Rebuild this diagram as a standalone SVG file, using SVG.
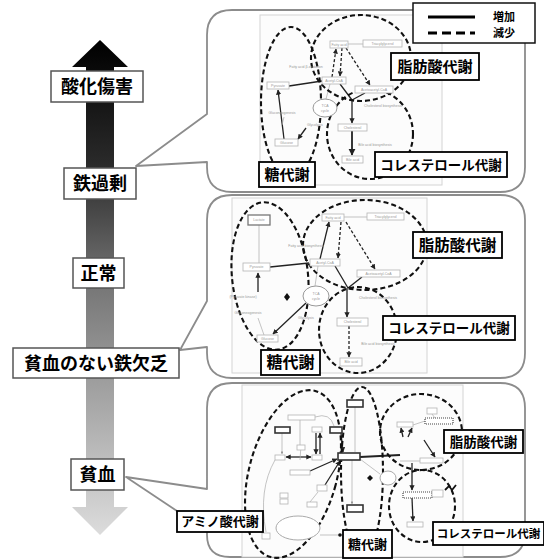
<svg xmlns="http://www.w3.org/2000/svg" width="544" height="559" viewBox="0 0 544 559">
<defs>
<linearGradient id="grad" gradientUnits="userSpaceOnUse" x1="0" y1="40" x2="0" y2="535">
<stop offset="0" stop-color="#000"/>
<stop offset="0.25" stop-color="#2a2a2a"/>
<stop offset="0.5" stop-color="#777"/>
<stop offset="0.75" stop-color="#aaa"/>
<stop offset="1" stop-color="#dcdcdc"/>
</linearGradient>
<marker id="ah" viewBox="0 0 10 10" refX="9" refY="5" markerWidth="4" markerHeight="4" orient="auto-start-reverse">
<path d="M0,0 L10,5 L0,10 Z" fill="#222"/>
</marker>
<marker id="ahg" viewBox="0 0 10 10" refX="9" refY="5" markerWidth="4" markerHeight="4" orient="auto-start-reverse">
<path d="M0,0 L10,5 L0,10 Z" fill="#999"/>
</marker>
<style>
.lbl{font-family:"Noto Sans CJK JP","Noto Sans CJK SC",sans-serif;font-weight:bold;fill:#000;text-anchor:middle}
.lbox{fill:#fff;stroke:#555;stroke-width:1.5}
.sbox{fill:#fff;stroke:#000;stroke-width:1.8}
.panel{fill:#fff;stroke:#8c8c8c;stroke-width:1.8;stroke-linejoin:round}
.inner{fill:#fcfcfc;stroke:#d4d4d4;stroke-width:1}
.node{fill:#fff;stroke:#b5b5b5;stroke-width:0.8}
.dnode{fill:#fff;stroke:#333;stroke-width:1.6}
.hnode{fill:#fff;stroke:#444;stroke-width:1.2;stroke-dasharray:1,1}
.tiny{font-family:"Liberation Sans",sans-serif;font-size:3.5px;fill:#999;text-anchor:middle}
.ell{fill:none;stroke:#111;stroke-width:2.1;stroke-dasharray:5,3}
.sol{fill:none;stroke:#222;stroke-width:1.3}
.thk{fill:none;stroke:#222;stroke-width:1.8}
.dsh{fill:none;stroke:#222;stroke-width:1.3;stroke-dasharray:3,2}
.thin{fill:none;stroke:#aaa;stroke-width:0.7}
</style>
</defs>

<!-- big vertical gradient arrow -->
<g id="scale-arrow">
<polygon points="100,40 128,67 114,67 114,507 128,507 100,535 72,507 86,507 86,67 72,67" fill="url(#grad)"/>
</g>

<!-- panels (speech-bubble shapes) -->
<g id="panel-iron-overload">
<path class="panel" d="M232,10 H500 Q525,10 525,35 V167 Q525,192 500,192 H232 Q207,192 207,167 V162 L136,166 L207,114 V35 Q207,10 232,10 Z"/>
<rect class="inner" x="260" y="15" width="182" height="170"/>
</g>
<g id="panel-iron-deficiency">
<path class="panel" d="M232,195 H500 Q525,195 525,220 V353 Q525,378 500,378 H232 Q207,378 207,353 V347 L180,350 L207,301 V220 Q207,195 232,195 Z"/>
<rect class="inner" x="232" y="198" width="195" height="175"/>
</g>
<g id="panel-anemia">
<path class="panel" d="M232,383 H500 Q525,383 525,408 V532 Q525,557 500,557 H230 Q207,557 207,535 V525 L177,511 L126,477 L207,489 V408 Q207,383 232,383 Z"/>
<rect class="inner" x="242" y="385" width="221" height="172"/>
</g>

<!-- connectors -->
<g id="connectors">
<!-- panel 1 -->
<line class="sol" x1="284" y1="139" x2="278" y2="90" marker-end="url(#ah)"/>
<line class="sol" x1="289" y1="86" x2="322" y2="81"/>
<line class="dsh" x1="332" y1="77" x2="336" y2="49" marker-end="url(#ah)"/>
<line class="dsh" x1="342" y1="48" x2="340" y2="76" marker-end="url(#ah)"/>
<line class="dsh" x1="346" y1="48" x2="370" y2="85" marker-end="url(#ah)"/>
<line class="sol" x1="340" y1="84" x2="352" y2="100"/>
<line class="sol" x1="365" y1="93" x2="352" y2="100"/>
<line class="sol" x1="352" y1="100" x2="352" y2="123" marker-end="url(#ah)"/>
<line class="thk" x1="352" y1="131" x2="352" y2="155" marker-end="url(#ah)"/>
<line class="sol" x1="306" y1="128" x2="298" y2="139" marker-end="url(#ah)"/>
<line class="thin" x1="330" y1="84" x2="326" y2="99"/>
<line class="thin" x1="348" y1="44" x2="363" y2="44"/>
<line class="thin" x1="282" y1="125" x2="284" y2="117"/>
<!-- panel 2 -->
<line class="thin" x1="259" y1="225" x2="259" y2="263"/>
<line class="sol" x1="270" y1="267" x2="309" y2="263"/>
<line class="sol" x1="320" y1="259" x2="329" y2="222" marker-end="url(#ah)"/>
<line class="dsh" x1="341" y1="222" x2="338" y2="258" marker-end="url(#ah)"/>
<line class="dsh" x1="346" y1="222" x2="375" y2="269" marker-end="url(#ah)"/>
<line class="sol" x1="335" y1="266" x2="348" y2="288"/>
<line class="sol" x1="362" y1="277" x2="348" y2="288"/>
<line class="sol" x1="347" y1="288" x2="347" y2="317" marker-end="url(#ah)"/>
<line class="dsh" x1="349" y1="326" x2="349" y2="357" marker-end="url(#ah)"/>
<line class="sol" x1="306" y1="303" x2="273" y2="334" marker-end="url(#ah)"/>
<line class="sol" x1="258" y1="292" x2="258" y2="273" marker-end="url(#ah)"/>
<line class="thin" x1="264" y1="335" x2="258" y2="318"/>
<line class="thin" x1="344" y1="217" x2="367" y2="217"/>
<line class="thin" x1="318" y1="266" x2="315" y2="286"/>
<!-- panel 3 -->
<line class="thin" x1="355" y1="407" x2="355" y2="452"/>
<line class="thk" x1="360" y1="457" x2="400" y2="455"/>
<line class="thin" x1="282" y1="433" x2="282" y2="454" marker-end="url(#ahg)"/>
<line class="sol" x1="316" y1="433" x2="316" y2="454" marker-end="url(#ah)"/>
<line class="sol" x1="320" y1="454" x2="320" y2="433" marker-end="url(#ah)"/>
<line class="sol" x1="286" y1="457" x2="311" y2="457" marker-start="url(#ah)" marker-end="url(#ah)"/>
<line class="sol" x1="341" y1="433" x2="343" y2="452" marker-end="url(#ah)"/>
<line class="sol" x1="310" y1="471" x2="337" y2="459" marker-end="url(#ah)"/>
<line class="sol" x1="325" y1="485" x2="340" y2="461" marker-end="url(#ah)"/>
<line class="thin" x1="352" y1="460" x2="352" y2="504" marker-end="url(#ahg)"/>
<line class="thin" x1="301" y1="445" x2="300" y2="460"/>
<line class="thin" x1="300" y1="420" x2="300" y2="445"/>
<path class="thin" d="M315,417 Q330,412 334,426"/>
<line class="thin" x1="360" y1="459" x2="380" y2="474"/>
<line class="thin" x1="320" y1="535" x2="360" y2="535"/>
<line class="thin" x1="318" y1="492" x2="310" y2="502"/>
<path class="thin" d="M275,460 Q258,490 266,532"/>
<line class="sol" x1="403" y1="437" x2="401" y2="428" marker-end="url(#ah)"/>
<line class="sol" x1="408" y1="437" x2="412" y2="428" marker-end="url(#ah)"/>
<line class="sol" x1="424" y1="440" x2="435" y2="457" marker-end="url(#ah)"/>
<line class="sol" x1="412" y1="463" x2="412" y2="490" marker-end="url(#ah)"/>
<line class="sol" x1="412" y1="498" x2="413" y2="521" marker-end="url(#ah)"/>
<line class="thin" x1="413" y1="425" x2="425" y2="421"/>
<line class="thin" x1="432" y1="414" x2="435" y2="418"/>
<line class="thin" x1="400" y1="461" x2="420" y2="461"/>
<path d="M445,490 L449,486 L452,490 L456,485" fill="none" stroke="#111" stroke-width="1.8"/>
</g>

<!-- legend -->
<g id="legend">
<rect x="413" y="3" width="122" height="40" fill="#fff" stroke="#111" stroke-width="1.5"/>
<line x1="428" y1="17" x2="475" y2="17" stroke="#000" stroke-width="3"/>
<line x1="428" y1="33" x2="475" y2="33" stroke="#000" stroke-width="3" stroke-dasharray="9,5"/>
<text class="lbl" x="504" y="21" font-size="11">増加</text>
<text class="lbl" x="504" y="37" font-size="11">減少</text>
</g>

<!-- panel 1 content -->
<g id="p1-ellipses">
<ellipse class="ell" cx="291" cy="102" rx="30" ry="75"/>
<ellipse class="ell" cx="361" cy="58" rx="50" ry="43"/>
<ellipse class="ell" cx="370" cy="134" rx="43" ry="45"/>
</g>
<g id="p1-fatty-acid"><rect class="node" x="330" y="41" width="18" height="7"/><text class="tiny" x="339" y="45.5">Fatty acid</text></g>
<g id="p1-triacylglycerol"><rect class="node" x="363" y="40" width="39" height="7"/><text class="tiny" x="382.5" y="44.5">Triacylglycerol</text></g>
<g id="p1-pyruvate"><rect class="node" x="267" y="82" width="22" height="7"/><text class="tiny" x="278" y="86.5">Pyruvate</text></g>
<g id="p1-acetyl-coa"><rect class="node" x="322" y="77" width="24" height="7"/><text class="tiny" x="334" y="81.5">Acetyl-CoA</text></g>
<g id="p1-acetoacetyl-coa"><rect class="node" x="355" y="86" width="38" height="7"/><text class="tiny" x="374" y="90.5">Acetoacetyl-CoA</text></g>
<g id="p1-tca"><ellipse cx="325" cy="108" rx="12" ry="9" fill="#fff" stroke="#999" stroke-width="1"/><text class="tiny" x="325" y="107">TCA</text><text class="tiny" x="325" y="111.5">cycle</text></g>
<g id="p1-glucose"><rect class="node" x="275" y="139" width="23" height="7"/><text class="tiny" x="286.5" y="143.5">Glucose</text></g>
<g id="p1-cholesterol"><rect class="node" x="338" y="124" width="29" height="7"/><text class="tiny" x="352.5" y="128.5">Cholesterol</text></g>
<g id="p1-bile-acid"><rect class="node" x="342" y="156" width="21" height="7"/><text class="tiny" x="352.5" y="160.5">Bile acid</text></g>
<g id="p1-notes">
<text class="tiny" x="306" y="68">Fatty acid β-oxidation</text>
<text class="tiny" x="282" y="114">Gluconeogenesis</text>
<text class="tiny" x="315" y="126">Glycolysis</text>
<text class="tiny" x="383" y="107">Cholesterol biosynthesis</text>
<text class="tiny" x="375" y="146">Bile acid biosynthesis</text>
</g>
<g id="p1-label-fa"><rect class="sbox" x="391" y="53" width="88" height="27"/><text class="lbl" x="435" y="71.5" font-size="15">脂肪酸代謝</text></g>
<g id="p1-label-chol"><rect class="sbox" x="375" y="152" width="132" height="25"/><text class="lbl" x="441" y="169.5" font-size="13.5">コレステロール代謝</text></g>
<g id="p1-label-sugar"><rect class="sbox" x="259" y="162" width="56" height="25"/><text class="lbl" x="287" y="180" font-size="15">糖代謝</text></g>

<!-- panel 2 content -->
<g id="p2-ellipses">
<ellipse class="ell" cx="270" cy="276" rx="38" ry="74" transform="rotate(-6 270 276)"/>
<ellipse class="ell" cx="365" cy="245" rx="62" ry="45"/>
<ellipse class="ell" cx="358" cy="330" rx="39" ry="43"/>
</g>
<g id="p2-lactate"><rect x="248" y="215" width="22" height="10" fill="#fff" stroke="#777" stroke-width="1.3"/><text class="tiny" x="259" y="221">Lactate</text></g>
<g id="p2-fatty-acid"><rect class="node" x="322" y="214" width="22" height="7"/><text class="tiny" x="333" y="218.5">Fatty acid</text></g>
<g id="p2-triacylglycerol"><rect class="node" x="367" y="213" width="37" height="7"/><text class="tiny" x="385.5" y="217.5">Triacylglycerol</text></g>
<g id="p2-pyruvate"><rect class="node" x="243" y="263" width="27" height="8"/><text class="tiny" x="256.5" y="268">Pyruvate</text></g>
<g id="p2-acetyl-coa"><rect class="node" x="310" y="259" width="30" height="7"/><text class="tiny" x="325" y="263.5">Acetyl-CoA</text></g>
<g id="p2-acetoacetyl-coa"><rect class="node" x="357" y="270" width="43" height="7"/><text class="tiny" x="378.5" y="274.5">Acetoacetyl-CoA</text></g>
<g id="p2-tca"><ellipse cx="316" cy="296" rx="13" ry="10" fill="#fff" stroke="#999" stroke-width="1"/><text class="tiny" x="316" y="295">TCA</text><text class="tiny" x="316" y="299.5">cycle</text></g>
<g id="p2-glucose"><rect class="node" x="257" y="335" width="21" height="7"/><text class="tiny" x="267.5" y="339.5">Glucose</text></g>
<g id="p2-cholesterol"><rect class="node" x="337" y="318" width="31" height="8"/><text class="tiny" x="352.5" y="323">Cholesterol</text></g>
<g id="p2-bile-acid"><rect class="node" x="340" y="358" width="22" height="8"/><text class="tiny" x="351" y="363">Bile acid</text></g>
<g id="p2-notes">
<text class="tiny" x="306" y="247">Fatty acid biosynthesis</text>
<text class="tiny" x="243" y="298">(Pyruvate kinase)</text>
<polygon points="287,293 290,297 287,301 284,297" fill="#111"/>
<text class="tiny" x="248" y="314">Gluconeogenesis</text>
<text class="tiny" x="306" y="319">Glycolysis</text>
<text class="tiny" x="378" y="299">Cholesterol biosynthesis</text>
<text class="tiny" x="378" y="345">Bile acid biosynthesis</text>
</g>
<g id="p2-label-fa"><rect class="sbox" x="413" y="232" width="89" height="26"/><text class="lbl" x="457.5" y="250.5" font-size="15.5">脂肪酸代謝</text></g>
<g id="p2-label-chol"><rect class="sbox" x="383" y="316" width="132" height="24"/><text class="lbl" x="449" y="333" font-size="13.5">コレステロール代謝</text></g>
<g id="p2-label-sugar"><rect class="sbox" x="261" y="350" width="59" height="25"/><text class="lbl" x="290.5" y="368" font-size="16">糖代謝</text></g>

<!-- panel 3 content -->
<g id="p3-ellipses">
<ellipse class="ell" cx="293" cy="474" rx="44" ry="86" transform="rotate(15 293 474)"/>
<ellipse class="ell" cx="362" cy="472" rx="21" ry="85"/>
<ellipse class="ell" cx="421" cy="432" rx="41" ry="38"/>
<ellipse class="ell" cx="422" cy="506" rx="33" ry="36"/>
</g>
<g id="p3-node-a"><rect class="dnode" x="275" y="427" width="15" height="6"/></g>
<g id="p3-node-b"><rect class="dnode" x="330" y="427" width="12" height="6"/></g>
<g id="p3-node-c"><rect class="dnode" x="347" y="400" width="16" height="7"/></g>
<g id="p3-node-d"><rect class="node" x="288" y="415" width="27" height="5"/></g>
<g id="p3-node-e"><rect class="node" x="312" y="427" width="10" height="5"/></g>
<g id="p3-node-f"><rect class="node" x="297" y="445" width="8" height="5"/></g>
<g id="p3-node-g"><rect class="node" x="275" y="455" width="10" height="5"/></g>
<g id="p3-node-h"><rect class="node" x="312" y="455" width="10" height="5"/></g>
<g id="p3-pyruvate"><rect class="dnode" x="338" y="453" width="22" height="7"/></g>
<g id="p3-node-i"><rect class="node" x="290" y="470" width="20" height="5"/></g>
<g id="p3-node-j"><rect class="node" x="317" y="485" width="10" height="6"/></g>
<g id="p3-node-k"><rect class="node" x="280" y="493" width="8" height="5"/><rect class="node" x="280" y="499" width="8" height="5"/></g>
<g id="p3-node-l"><rect class="node" x="307" y="502" width="10" height="5"/></g>
<g id="p3-ammonia"><ellipse cx="298" cy="528" rx="22" ry="12" fill="#fff" stroke="#aaa" stroke-width="1"/></g>
<g id="p3-node-m"><rect class="node" x="262" y="533" width="8" height="6"/></g>
<g id="p3-glucose"><rect class="dnode" x="347" y="505" width="16" height="7"/></g>
<g id="p3-node-n"><rect class="node" x="427" y="408" width="10" height="6"/></g>
<g id="p3-fatty-acid"><rect class="node" x="397" y="422" width="16" height="5"/></g>
<g id="p3-triacylglycerol"><rect class="hnode" x="425" y="418" width="28" height="6"/></g>
<g id="p3-acetoacetyl"><rect class="node" x="420" y="458" width="23" height="5"/></g>
<g id="p3-cholesterol"><rect class="hnode" x="403" y="492" width="29" height="6"/></g>
<g id="p3-node-o"><rect class="node" x="432" y="490" width="11" height="7"/></g>
<g id="p3-bile-acid"><rect class="node" x="407" y="522" width="16" height="5"/></g>
<g id="p3-tca"><ellipse cx="388" cy="478" rx="8" ry="7" fill="#fff" stroke="#aaa" stroke-width="1"/></g>
<g id="p3-marks">
<polygon points="370,475 373,478 370,481 367,478" fill="#111"/>
<circle cx="340" cy="535" r="1.8" fill="#111"/>
</g>
<g id="p3-label-fa"><rect class="sbox" x="444" y="430" width="79" height="23"/><text class="lbl" x="483.5" y="446.5" font-size="13.5">脂肪酸代謝</text></g>
<g id="p3-label-chol"><rect class="sbox" x="433" y="522" width="111" height="23"/><text class="lbl" x="488.5" y="537.5" font-size="11.5">コレステロール代謝</text></g>
<g id="p3-label-sugar"><rect class="sbox" x="343" y="530" width="49" height="28"/><text class="lbl" x="367.5" y="549" font-size="13">糖代謝</text></g>
<g id="p3-label-amino"><rect class="sbox" x="177" y="511" width="86" height="21"/><text class="lbl" x="220" y="526" font-size="13">アミノ酸代謝</text></g>

<!-- scale labels -->
<g id="lbl-oxidative"><rect class="lbox" x="51" y="71" width="92" height="31"/><text class="lbl" x="97" y="93" font-size="18">酸化傷害</text></g>
<g id="lbl-overload"><rect class="lbox" x="64" y="168" width="72" height="31"/><text class="lbl" x="100" y="190" font-size="18">鉄過剰</text></g>
<g id="lbl-normal"><rect class="lbox" x="73" y="258" width="51" height="30"/><text class="lbl" x="98.5" y="279.5" font-size="18">正常</text></g>
<g id="lbl-id-no-anemia"><rect class="lbox" x="13" y="348" width="166" height="30"/><text class="lbl" x="96" y="369.5" font-size="18">貧血のない鉄欠乏</text></g>
<g id="lbl-anemia"><rect class="lbox" x="71" y="459" width="53" height="31"/><text class="lbl" x="97.5" y="481" font-size="18">貧血</text></g>
</svg>
